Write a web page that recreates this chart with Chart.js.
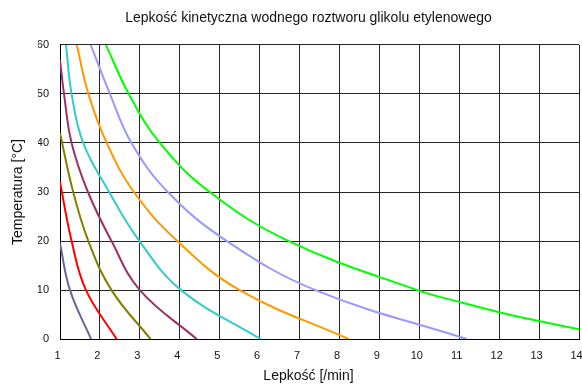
<!DOCTYPE html>
<html>
<head>
<meta charset="utf-8">
<title>Lepkość kinetyczna</title>
<script src="https://cdn.jsdelivr.net/npm/chart.js@4/dist/chart.umd.min.js"></script>
<style>
    html, body { margin: 0; padding: 0; background: #fff; }
    #wrap { width: 582px; height: 385px; }
</style>
</head>
<body>
<div id="wrap"><canvas id="chart"></canvas></div>
<script>
// stężenie glikolu (nazwy serii, legenda ukryta)
const nazwy = ['0%', '10%', '20%', '30%', '40%', '50%', '60%', '70%'];

// lepkość [x] i temperatura [y] (co 10 °C + początek przy osi)
const lepkosc = [
    [1.0, 1.25, 1.78],
    [1.0, 1.29, 1.65, 2.42],
    [1.0, 1.33, 1.71, 2.29, 3.27],
    [1.0, 1.1, 1.29, 1.7, 2.29, 3.0, 4.43],
    [1.15, 1.29, 1.58, 2.23, 2.99, 4.03, 6.03],
    [1.42, 1.71, 2.17, 2.85, 3.94, 5.5, 8.24],
    [1.77, 2.25, 2.79, 3.7, 5.18, 7.4, 11.2],
    [2.15, 2.72, 3.5, 4.75, 6.73, 9.95, 11.0, 12.0, 13.0, 14.0]
];
const temperatura = [
    [19.5, 10, 0],
    [32, 20, 10, 0],
    [42, 30, 20, 10, 0],
    [56.9, 50, 40, 30, 20, 10, 0],
    [60, 50, 40, 30, 20, 10, 0],
    [60, 50, 40, 30, 20, 10, 0],
    [60, 50, 40, 30, 20, 10, 0],
    [60, 50, 40, 30, 20, 10, 7.6, 5.5, 3.7, 2.0]
];

const kolory = ['#666699', '#ff0000', '#808000', '#993366', '#33cccc', '#ff9900', '#9999ff', '#00ff00'];

const FONT = "'Liberation Sans', Arial, sans-serif";

const datasets = nazwy.map((nazwa, i) => ({
    label: nazwa,
    data: lepkosc[i].map((x, j) => ({ x: x, y: temperatura[i][j] })),
    borderColor: kolory[i],
    backgroundColor: kolory[i],
    borderWidth: 2,
    pointRadius: 0,
    showLine: true,
    tension: 0.4
}));

new Chart(document.getElementById('chart'), {
    type: 'scatter',
    data: { datasets: datasets },
    options: {
        responsive: true,
        maintainAspectRatio: false,
        animation: false,
        layout: { padding: { left: 38, right: 3, top: 0, bottom: 0 } },
        plugins: {
            legend: { display: false },
            tooltip: { enabled: false },
            title: {
                display: true,
                text: 'Lepkość kinetyczna wodnego roztworu glikolu etylenowego',
                color: '#111',
                font: { family: FONT, size: 14, weight: 'normal' },
                padding: { top: 10, bottom: 18 }
            },
            subtitle: {
                display: true,
                position: 'bottom',
                text: 'Lepkość [/min]',
                color: '#111',
                font: { family: FONT, size: 14, weight: 'normal' },
                padding: { top: 0, bottom: 0 }
            }
        },
        scales: {
            x: {
                type: 'linear',
                min: 1,
                max: 14,
                ticks: {
                    stepSize: 1,
                    labelOffset: -2.5,
                    padding: 10,
                    color: '#111',
                    font: { family: FONT, size: 11 }
                },
                grid: { color: 'rgba(0,0,0,0.85)', lineWidth: 1, drawTicks: false },
                border: { color: '#000', width: 1 },
                afterFit(scale) {
                    scale.height = 29;
                    scale.paddingLeft = 0;
                    scale.paddingRight = 0;
                }
            },
            y: {
                type: 'linear',
                min: 0,
                max: 60,
                ticks: {
                    stepSize: 10,
                    padding: 11,
                    color: '#111',
                    font: { family: FONT, size: 11 }
                },
                grid: { color: 'rgba(0,0,0,0.85)', lineWidth: 1, drawTicks: false },
                border: { color: '#000', width: 1 },
                title: {
                    display: true,
                    text: 'Temperatura [°C]',
                    color: '#111',
                    font: { family: FONT, size: 14 },
                    padding: { top: -28, bottom: 0 }
                },
                afterFit(scale) {
                    scale.width = 22;
                }
            }
        }
    }
});
</script>
</body>
</html>
